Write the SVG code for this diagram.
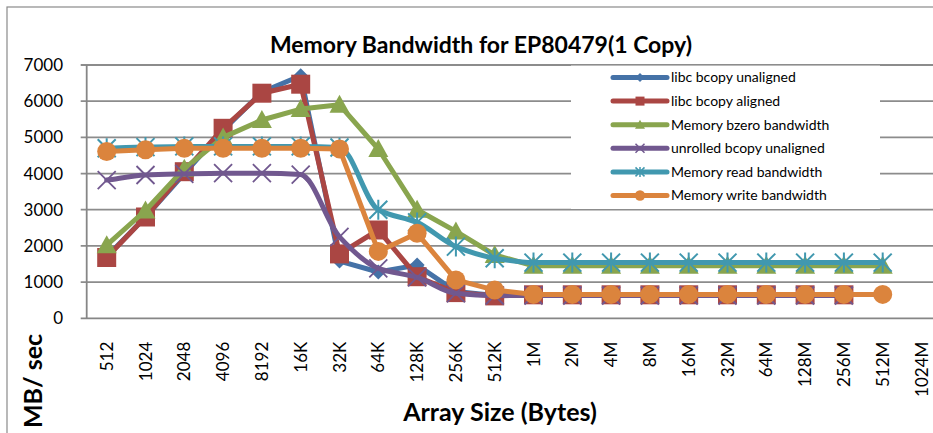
<svg xmlns="http://www.w3.org/2000/svg" xmlns:xlink="http://www.w3.org/1999/xlink" width="933" height="433" viewBox="0 0 933 433">
<style>
.grid{stroke:#8c8c8c;stroke-width:1.8;fill:none}
.axis{stroke:#868686;stroke-width:1.8;fill:none}
.ylab{font-family:Lato,"Liberation Sans",sans-serif;font-size:17px;fill:#000;text-anchor:end}
.xlab{font-family:Lato,"Liberation Sans",sans-serif;font-size:17px;fill:#000;text-anchor:end}
.title{font-family:Lato,"Liberation Sans",sans-serif;font-size:23px;font-weight:bold;fill:#000;text-anchor:middle}
.atitle{font-family:Lato,"Liberation Sans",sans-serif;font-size:25px;font-weight:bold;fill:#000;text-anchor:middle}
.leg{font-family:Lato,"Liberation Sans",sans-serif;font-size:14px;fill:#000}
.s{fill:none;stroke-width:5;stroke-linejoin:round;stroke-linecap:round}
.s1{stroke:#4572A7;marker-start:url(#mDia);marker-mid:url(#mDia);marker-end:url(#mDia)}
.s2{stroke:#AA4643;marker-start:url(#mSq);marker-mid:url(#mSq);marker-end:url(#mSq)}
.s3{stroke:#89A54E;marker-start:url(#mTri);marker-mid:url(#mTri);marker-end:url(#mTri)}
.s4{stroke:#71588F;marker-start:url(#mX);marker-mid:url(#mX);marker-end:url(#mX)}
.s5{stroke:#4198AF;marker-start:url(#mAst);marker-mid:url(#mAst);marker-end:url(#mAst)}
.s6{stroke:#DB843D;marker-start:url(#mCir);marker-mid:url(#mCir);marker-end:url(#mCir)}
.ll{stroke-width:5;stroke-linecap:round;fill:none}
</style>
<defs>
<marker id="mDia" markerUnits="userSpaceOnUse" markerWidth="24" markerHeight="24" viewBox="-12 -12 24 24" refX="0" refY="0" overflow="visible"><path d="M0,-7.5L7.5,0L0,7.5L-7.5,0Z" fill="#4572A7"/></marker>
<marker id="mSq" markerUnits="userSpaceOnUse" markerWidth="24" markerHeight="24" viewBox="-12 -12 24 24" refX="0" refY="0" overflow="visible"><rect x="-9.5" y="-9.5" width="19" height="19" fill="#AA4643"/></marker>
<marker id="mTri" markerUnits="userSpaceOnUse" markerWidth="24" markerHeight="24" viewBox="-12 -12 24 24" refX="0" refY="0" overflow="visible"><path d="M0,-10L10,8L-10,8Z" fill="#89A54E"/></marker>
<marker id="mX" markerUnits="userSpaceOnUse" markerWidth="24" markerHeight="24" viewBox="-12 -12 24 24" refX="0" refY="0" overflow="visible"><path d="M-9,-9L9,9M-9,9L9,-9" stroke="#71588F" stroke-width="1.8" fill="none"/></marker>
<marker id="mAst" markerUnits="userSpaceOnUse" markerWidth="24" markerHeight="24" viewBox="-12 -12 24 24" refX="0" refY="0" overflow="visible"><path d="M-9,-9L9,9M-9,9L9,-9M0,-10L0,10" stroke="#4198AF" stroke-width="2" fill="none"/></marker>
<marker id="mCir" markerUnits="userSpaceOnUse" markerWidth="24" markerHeight="24" viewBox="-12 -12 24 24" refX="0" refY="0" overflow="visible"><circle r="9.5" fill="#DB843D"/></marker>
</defs>
<rect x="0" y="0" width="933" height="433" fill="#fff"/>
<rect id="chart-border" x="7" y="7" width="1000" height="500" fill="none" stroke="#8a8a8a" stroke-width="1.2"/>
<text id="title" class="title" x="481" y="53">Memory Bandwidth for EP80479(1 Copy)</text>
<g id="gridlines">
<path class="grid" d="M80.7,65H940M80.7,101.2H940M80.7,137.4H940M80.7,173.6H940M80.7,209.7H940M80.7,245.9H940M80.7,282.1H940"/>
</g>
<g id="axes">
<path class="axis" d="M80.7,318.3H940"/>
<path class="axis" d="M86.7,65V318.3"/>
</g>
<g id="y-labels">
<text class="ylab" x="63" y="71">7000</text>
<text class="ylab" x="63" y="107.2">6000</text>
<text class="ylab" x="63" y="143.4">5000</text>
<text class="ylab" x="63" y="179.6">4000</text>
<text class="ylab" x="63" y="215.7">3000</text>
<text class="ylab" x="63" y="251.9">2000</text>
<text class="ylab" x="63" y="288.1">1000</text>
<text class="ylab" x="63" y="324.3">0</text>
</g>
<g id="x-labels">
<text class="xlab" transform="translate(112.7,341.7) rotate(-90)">512</text>
<text class="xlab" transform="translate(151.5,341.7) rotate(-90)">1024</text>
<text class="xlab" transform="translate(190.3,341.7) rotate(-90)">2048</text>
<text class="xlab" transform="translate(229.1,341.7) rotate(-90)">4096</text>
<text class="xlab" transform="translate(267.9,341.7) rotate(-90)">8192</text>
<text class="xlab" transform="translate(306.7,341.7) rotate(-90)">16K</text>
<text class="xlab" transform="translate(345.5,341.7) rotate(-90)">32K</text>
<text class="xlab" transform="translate(384.3,341.7) rotate(-90)">64K</text>
<text class="xlab" transform="translate(423.1,341.7) rotate(-90)">128K</text>
<text class="xlab" transform="translate(461.9,341.7) rotate(-90)">256K</text>
<text class="xlab" transform="translate(500.7,341.7) rotate(-90)">512K</text>
<text class="xlab" transform="translate(539.5,341.7) rotate(-90)">1M</text>
<text class="xlab" transform="translate(578.3,341.7) rotate(-90)">2M</text>
<text class="xlab" transform="translate(617.1,341.7) rotate(-90)">4M</text>
<text class="xlab" transform="translate(655.9,341.7) rotate(-90)">8M</text>
<text class="xlab" transform="translate(694.7,341.7) rotate(-90)">16M</text>
<text class="xlab" transform="translate(733.5,341.7) rotate(-90)">32M</text>
<text class="xlab" transform="translate(772.3,341.7) rotate(-90)">64M</text>
<text class="xlab" transform="translate(811.1,341.7) rotate(-90)">128M</text>
<text class="xlab" transform="translate(849.9,341.7) rotate(-90)">256M</text>
<text class="xlab" transform="translate(888.7,341.7) rotate(-90)">512M</text>
<text class="xlab" transform="translate(927.5,341.7) rotate(-90)">1024M</text>
</g>
<text id="y-title" class="atitle" transform="translate(42,381) rotate(-90)">MB/ sec</text>
<text id="x-title" class="atitle" x="500" y="421">Array Size (Bytes)</text>
<g id="legend">
<rect x="571" y="65.6" width="309" height="143.4" fill="#fff"/>
<g id="leg1">
<path class="ll" stroke="#4572A7" d="M613,77.5H667"/>
<path d="M640,73L644.5,77.5L640,82L635.5,77.5Z" fill="#4572A7"/>
<text class="leg" x="671" y="82.3">libc bcopy unaligned</text>
</g>
<g id="leg2">
<path class="ll" stroke="#AA4643" d="M613,101.1H667"/>
<rect x="635.5" y="96.6" width="9" height="9" fill="#AA4643"/>
<text class="leg" x="671" y="105.9">libc bcopy aligned</text>
</g>
<g id="leg3">
<path class="ll" stroke="#89A54E" d="M613,124.7H667"/>
<path d="M640,119.7L645,128.7L635,128.7Z" fill="#89A54E"/>
<text class="leg" x="671" y="129.5">Memory bzero bandwidth</text>
</g>
<g id="leg4">
<path class="ll" stroke="#71588F" d="M613,148.3H667"/>
<path d="M635.5,143.8L644.5,152.8M635.5,152.8L644.5,143.8" stroke="#71588F" stroke-width="1.5"/>
<text class="leg" x="671" y="153.1">unrolled bcopy unaligned</text>
</g>
<g id="leg5">
<path class="ll" stroke="#4198AF" d="M613,171.9H667"/>
<path d="M635.5,167.4L644.5,176.4M635.5,176.4L644.5,167.4M640,166.9V176.9" stroke="#4198AF" stroke-width="1.5"/>
<text class="leg" x="671" y="176.7">Memory read bandwidth</text>
</g>
<g id="leg6">
<path class="ll" stroke="#DB843D" d="M613,195.5H667"/>
<circle cx="640" cy="195.5" r="5.2" fill="#DB843D"/>
<text class="leg" x="671" y="200.3">Memory write bandwidth</text>
</g>
</g>
<g id="series">
<polyline id="libc-bcopy-unaligned" class="s s1" points="106.7,256.8 145.5,217.0 184.3,173.5 223.1,130.1 261.9,92.1 300.7,75.8 339.5,261.1 378.3,272.0 417.1,265.1 455.9,291.5 494.7,295.5 533.5,295.5 572.3,295.5 611.1,295.5 649.9,295.5 688.7,295.5 727.5,295.5 766.3,295.5 805.1,295.5 843.9,295.5"/>
<polyline id="libc-bcopy-aligned" class="s s2" points="106.7,257.5 145.5,217.0 184.3,171.7 223.1,128.3 261.9,93.2 300.7,84.2 339.5,253.9 378.3,230.0 417.1,276.7 455.9,292.6 494.7,295.9 533.5,294.8 572.3,294.8 611.1,294.8 649.9,294.8 688.7,294.8 727.5,294.8 766.3,294.8 805.1,294.8 843.9,294.8"/>
<polyline id="memory-bzero" class="s s3" points="106.7,245.2 145.5,210.5 184.3,168.8 223.1,137.4 261.9,120.0 300.7,109.1 339.5,104.8 378.3,149.0 417.1,209.7 455.9,231.4 494.7,255.0 533.5,265.8 572.3,265.8 611.1,265.8 649.9,265.8 688.7,265.8 727.5,265.8 766.3,265.8 805.1,265.8 843.9,265.8 882.7,265.8"/>
<path id="unrolled-bcopy" class="s s4" d="M106.7,180.1C119.6,178.4 132.6,175.6 145.5,175.0C158.4,174.4 171.4,174.2 184.3,173.9C197.2,173.6 210.2,173.2 223.1,173.2C236.0,173.2 249.0,173.2 261.9,173.2C274.8,173.2 287.8,173.7 300.7,174.6C313.6,175.5 326.6,223.0 339.5,236.9C352.4,250.8 365.4,263.7 378.3,268.4C391.2,273.1 404.2,273.6 417.1,277.4C430.0,281.2 442.8,292.0 455.9,293.3C468.8,294.6 481.8,295.5 494.7,295.5L533.5,295.5L572.3,295.5L611.1,295.5L649.9,295.5L688.7,295.5L727.5,295.5L766.3,295.5L805.1,295.5L843.9,295.5"/>
<path id="memory-read" class="s s5" d="M106.7,148.2C119.6,147.8 132.6,147.4 145.5,147.1C158.4,146.8 171.4,146.4 184.3,146.4L223.1,146.4L261.9,146.4L300.7,146.4C313.6,146.4 326.6,146.8 339.5,147.5C352.4,148.2 365.4,202.7 378.3,209.7C391.2,216.7 404.2,216.9 417.1,222.4C430.0,228.0 443.0,241.4 455.9,246.6C468.8,251.8 481.8,256.1 494.7,258.2C507.6,260.3 520.6,262.6 533.5,262.6L572.3,262.6L611.1,262.6L649.9,262.6L688.7,262.6L727.5,262.6L766.3,262.6L805.1,262.6L843.9,262.6L882.7,262.6"/>
<polyline id="memory-write" class="s s6" points="106.7,151.5 145.5,149.7 184.3,148.2 223.1,148.2 261.9,148.2 300.7,148.2 339.5,148.9 378.3,251.4 417.1,233.3 455.9,279.9 494.7,290.1 533.5,294.4 572.3,294.4 611.1,294.4 649.9,294.4 688.7,294.4 727.5,294.4 766.3,294.4 805.1,294.4 843.9,294.4 882.7,294.4"/>
</g>
</svg>
